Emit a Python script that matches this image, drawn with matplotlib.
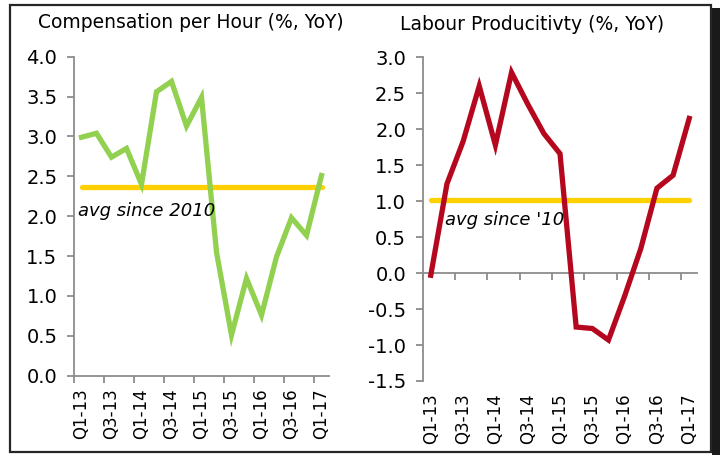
import matplotlib
matplotlib.use("Agg")
import matplotlib.pyplot as plt
from matplotlib.patches import Rectangle
import numpy as np

quarters = ["Q1-13", "Q2-13", "Q3-13", "Q4-13", "Q1-14", "Q2-14", "Q3-14", "Q4-14",
            "Q1-15", "Q2-15", "Q3-15", "Q4-15", "Q1-16", "Q2-16", "Q3-16", "Q4-16", "Q1-17"]
comp_per_hour = [2.99, 3.04, 2.74, 2.85, 2.40, 3.56, 3.69, 3.13, 3.49,
                 1.55, 0.51, 1.22, 0.76, 1.49, 1.98, 1.76, 2.51]
comp_avg = 2.36
productivity = [-0.03, 1.24, 1.83, 2.60, 1.78, 2.79, 2.35, 1.94, 1.66,
                -0.75, -0.77, -0.93, -0.32, 0.34, 1.18, 1.36, 2.15]
prod_avg = 1.01

green = "#92D050"
red = "#B5081E"
gold = "#FFD000"
gray = "#8C8C8C"

plt.rcParams['font.family'] = ['DejaVu Sans']

fig = plt.figure(figsize=(7.2, 4.55), dpi=100)
W, H = 720, 455

def px_axes(x0, x1, ytop, ybot):
    return fig.add_axes([x0 / W, (H - ybot) / H, (x1 - x0) / W, (ybot - ytop) / H])

def style(ax, ymin, ymax, step, zero_inside):
    n = len(quarters)
    x = np.arange(n)
    ax.set_xlim(-0.5, n - 0.5)
    ax.set_ylim(ymin, ymax)
    for s in ["top", "right"]:
        ax.spines[s].set_visible(False)
    ax.spines["left"].set_color(gray)
    ax.spines["left"].set_linewidth(1.3)
    ax.set_yticks(np.arange(ymin, ymax + step / 2, step))
    ax.set_yticklabels([f"{v:.1f}" for v in np.arange(ymin, ymax + step / 2, step)])
    ax.tick_params(axis="y", colors=gray, length=5, width=1.3, labelsize=14,
                   labelcolor="black", pad=7)
    # labels at category centres
    ax.set_xticks(x[::2])
    ax.set_xticklabels(quarters[::2], rotation=90)
    ax.tick_params(axis="x", length=0, labelsize=12, labelcolor="black", pad=9)
    bounds = np.arange(-0.5, n - 0.5, 2)
    if zero_inside:
        ax.spines["bottom"].set_visible(False)
        sec = ax.secondary_xaxis(0, transform=ax.transData)
        sec.set_xticks(bounds)
        sec.set_xticklabels([])
        sec.spines["bottom"].set_color(gray)
        sec.spines["bottom"].set_linewidth(1.3)
        sec.tick_params(axis="x", colors=gray, length=5, width=1.3)
    else:
        ax.spines["bottom"].set_color(gray)
        ax.spines["bottom"].set_linewidth(1.3)
        ax.set_xticks(bounds, minor=True)
        ax.tick_params(axis="x", which="minor", colors=gray, length=5, width=1.3)
    return x

# Left panel
ax1 = px_axes(74, 329, 56.7, 375.7)
x = style(ax1, 0.0, 4.0, 0.5, False)
ax1.plot(x, [comp_avg] * len(x), color=gold, lw=3.8, solid_capstyle="round", zorder=2)
ax1.plot(x, comp_per_hour, color=green, lw=3.8, solid_joinstyle="miter", zorder=3)
ax1.text(-0.25, 2.06, "avg since 2010", fontsize=13, style="italic", va="center", ha="left")
fig.text(191 / W, 1 - 22 / H, "Compensation per Hour (%, YoY)", fontsize=13.5,
         ha="center", va="center")

# Right panel
ax2 = px_axes(422.7, 697.3, 57.3, 381)
x = style(ax2, -1.5, 3.0, 0.5, True)
ax2.plot(x, [prod_avg] * len(x), color=gold, lw=3.8, solid_capstyle="round", zorder=2)
ax2.plot(x, productivity, color=red, lw=3.8, solid_joinstyle="miter", zorder=3)
ax2.text(0.85, 0.74, "avg since '10", fontsize=13, style="italic", va="center", ha="left")
fig.text(532 / W, 1 - 25 / H, "Labour Producitivty (%, YoY)", fontsize=13.5,
         ha="center", va="center")

# Frame and shadow
fig.patches.append(Rectangle((10 / W, (H - 452) / H), (711 - 10) / W, (452 - 5) / H,
                             transform=fig.transFigure, fill=False,
                             edgecolor="#262626", lw=1.6, zorder=0))
fig.patches.append(Rectangle((712 / W, 0), 8 / W, (H - 8) / H,
                             transform=fig.transFigure, facecolor="#1a1a1a",
                             edgecolor="none", zorder=0))

fig.savefig("out.png", dpi=100)
